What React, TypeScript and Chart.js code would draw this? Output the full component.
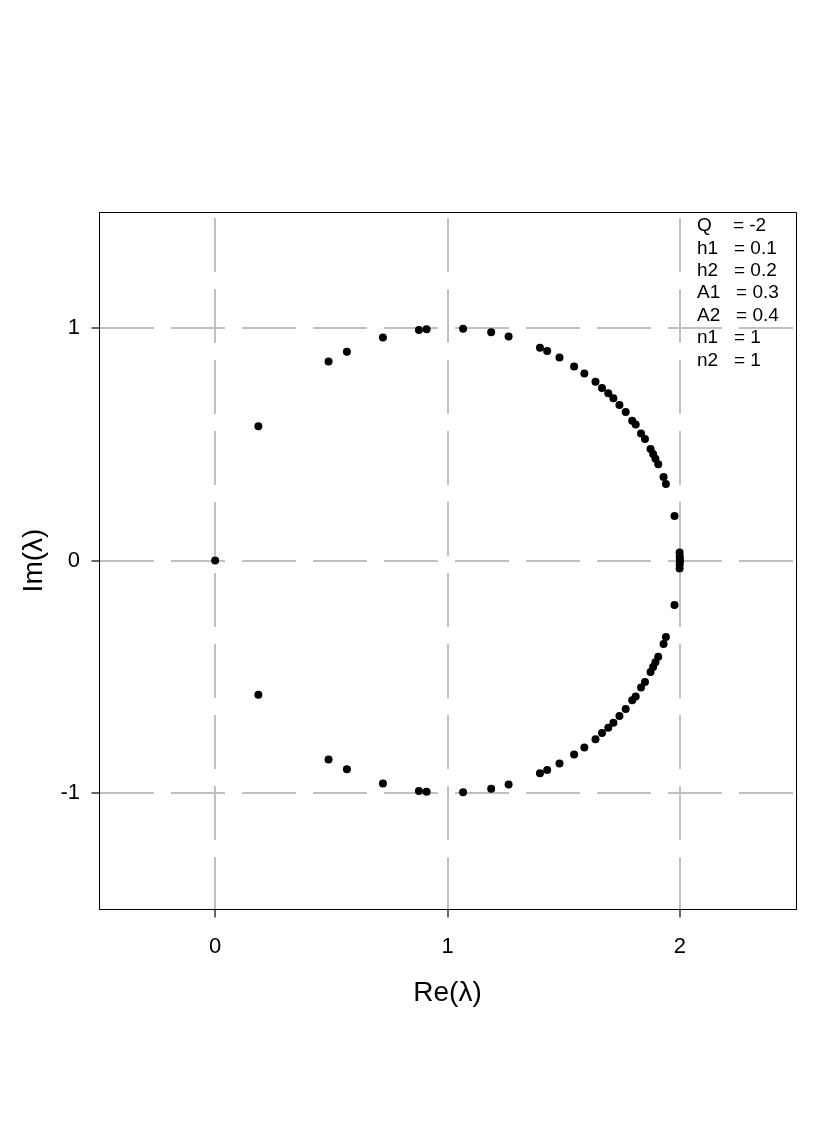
import React, { useEffect, useRef } from "react";
import { Chart, registerables } from "chart.js";

Chart.register(...registerables);

const upperRe = [0.186, 0.488, 0.567, 0.722, 0.877, 0.91, 1.067, 1.188, 1.263, 1.398, 1.429, 1.482, 1.545, 1.589, 1.637, 1.665, 1.692, 1.714, 1.74, 1.767, 1.795, 1.81, 1.833, 1.85, 1.874, 1.885, 1.895, 1.907, 1.93, 1.94, 1.977];
const upperIm = [0.578, 0.857, 0.899, 0.96, 0.992, 0.995, 0.997, 0.982, 0.964, 0.916, 0.902, 0.874, 0.835, 0.805, 0.769, 0.743, 0.72, 0.698, 0.669, 0.639, 0.602, 0.585, 0.547, 0.523, 0.48, 0.458, 0.438, 0.414, 0.359, 0.329, 0.191];
const lowerRe = [0.186, 0.488, 0.567, 0.722, 0.877, 0.91, 1.067, 1.188, 1.263, 1.398, 1.429, 1.482, 1.545, 1.589, 1.637, 1.665, 1.692, 1.714, 1.74, 1.767, 1.795, 1.81, 1.833, 1.85, 1.874, 1.885, 1.895, 1.907, 1.93, 1.94, 1.977];
const lowerIm = [-0.578, -0.857, -0.899, -0.96, -0.992, -0.995, -0.997, -0.982, -0.964, -0.916, -0.902, -0.874, -0.835, -0.805, -0.769, -0.743, -0.72, -0.698, -0.669, -0.639, -0.602, -0.585, -0.547, -0.523, -0.48, -0.458, -0.438, -0.414, -0.359, -0.329, -0.191];
const nearRealRe = [0, 1.999, 1.9995, 2.0, 2.0, 1.9995, 1.999];
const nearRealIm = [0, 0.034, 0.017, 0.005, -0.005, -0.017, -0.034];

const xTicks = [0, 1, 2];
const yTicks = [-1, 0, 1];
const paramLines = ["Q    = -2", "h1   = 0.1", "h2   = 0.2", "A1   = 0.3", "A2   = 0.4", "n1   = 1", "n2   = 1"];

const FONT = "'Liberation Sans', Arial, Helvetica, sans-serif";

export default function App() {
  const ref = useRef<HTMLCanvasElement>(null);

  useEffect(() => {
    const canvas = ref.current;
    if (!canvas) return;

    const pts: { x: number; y: number }[] = [];
    upperRe.forEach((v, i) => pts.push({ x: v, y: upperIm[i] }));
    lowerRe.forEach((v, i) => pts.push({ x: v, y: lowerIm[i] }));
    nearRealRe.forEach((v, i) => pts.push({ x: v, y: nearRealIm[i] }));

    const framePlugin = {
      id: "frame",
      afterDraw(chart: any) {
        const { ctx, chartArea: a, scales } = chart;
        ctx.save();
        ctx.strokeStyle = "#000";
        ctx.lineWidth = 1;
        ctx.setLineDash([]);
        const L = Math.floor(a.left) + 0.5;
        const T = Math.floor(a.top) + 0.5;
        const R = Math.floor(a.right) + 0.5;
        const B = Math.floor(a.bottom) + 0.5;
        ctx.beginPath();
        ctx.moveTo(L, T);
        ctx.lineTo(R, T);
        ctx.lineTo(R, B);
        ctx.stroke();
        // tick marks
        ctx.strokeStyle = "#000";
        ctx.lineWidth = 1.2;
        xTicks.forEach((v) => {
          const px = Math.round(scales.x.getPixelForValue(v));
          ctx.beginPath();
          ctx.moveTo(px, B);
          ctx.lineTo(px, B + 8);
          ctx.stroke();
        });
        yTicks.forEach((v) => {
          const py = Math.round(scales.y.getPixelForValue(v));
          ctx.beginPath();
          ctx.moveTo(L, py);
          ctx.lineTo(L - 8, py);
          ctx.stroke();
        });
        ctx.fillStyle = "#000";
        ctx.font = `19px ${FONT}`;
        ctx.textAlign = "left";
        ctx.textBaseline = "middle";
        paramLines.forEach((t, i) => {
          ctx.fillText(t, a.right - 99, a.top + 14 + i * 22.4);
        });
        ctx.restore();
      },
    };

    const chart = new Chart(canvas, {
      type: "scatter",
      data: {
        datasets: [
          {
            data: pts,
            pointRadius: 4,
            pointBorderWidth: 0,
            pointBackgroundColor: "#000",
            pointBorderColor: "#000",
            showLine: false,
          },
        ],
      },
      options: {
        responsive: false,
        animation: false,
        events: [],
        layout: { padding: { left: 0, right: 34, top: 212, bottom: 102 } },
        plugins: { legend: { display: false }, tooltip: { enabled: false } },
        scales: {
          x: {
            type: "linear",
            min: -0.5,
            max: 2.5,
            afterBuildTicks: (s: any) => {
              s.ticks = xTicks.map((v) => ({ value: v }));
            },
            afterFit: (s: any) => {
              s.height = 110;
            },
            grid: { color: "#c0c0c0", lineWidth: 2, tickColor: "rgba(0,0,0,0)", tickLength: 7, tickWidth: 1 },
            border: { display: true, color: "#000", width: 1, dash: [54, 17], dashOffset: -6 },
            ticks: { font: { family: FONT, size: 22 }, color: "#000", padding: 18, maxRotation: 0 },
            title: { display: true, text: "Re(λ)", color: "#000", font: { family: FONT, size: 28 }, padding: { top: 0, bottom: 9 } },
          },
          y: {
            type: "linear",
            min: -1.5,
            max: 1.5,
            afterBuildTicks: (s: any) => {
              s.ticks = yTicks.map((v) => ({ value: v }));
            },
            afterFit: (s: any) => {
              s.width = 99;
            },
            grid: { color: "#c0c0c0", lineWidth: 2, tickColor: "rgba(0,0,0,0)", tickLength: 7, tickWidth: 1 },
            border: { display: true, color: "#000", width: 1, dash: [54, 17], dashOffset: 0 },
            ticks: { font: { family: FONT, size: 22 }, color: "#000", padding: 12 },
            title: { display: true, text: "Im(λ)", color: "#000", font: { family: FONT, size: 28 }, padding: { top: 17, bottom: 0 } },
          },
        },
      },
      plugins: [framePlugin],
    } as any);

    return () => chart.destroy();
  }, []);

  return (
    <div style={{ position: "absolute", left: 0, top: 0, width: 830, height: 1121, background: "#fff" }}>
      <canvas ref={ref} width={830} height={1121} style={{ display: "block", width: 830, height: 1121 }} />
    </div>
  );
}
